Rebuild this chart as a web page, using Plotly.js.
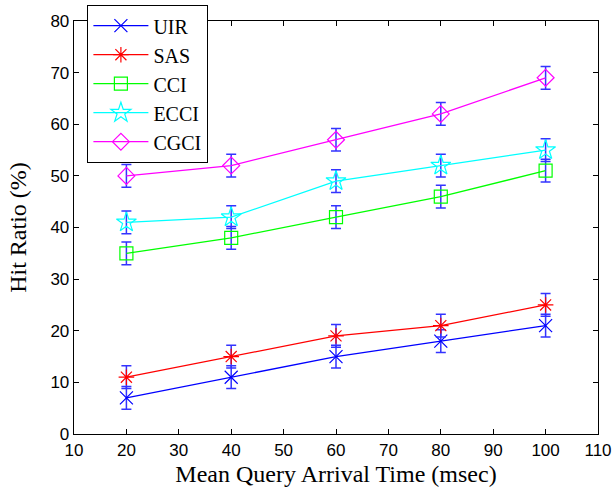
<!DOCTYPE html>
<html><head><meta charset="utf-8">
<script src="https://cdn.plot.ly/plotly-3.0.1.min.js"></script>
<style>body{margin:0;background:#fff}#chart{width:616px;height:496px}</style>
</head><body><div id="chart"></div>
<script>
var xVals = [20, 40, 60, 80, 100];
var uir  = [7, 11, 15, 18, 21];
var sas  = [11, 15, 19, 21, 25];
var cci  = [35, 38, 42, 46, 51];
var ecci = [41, 42, 49, 52, 55];
var cgci = [50, 52, 57, 62, 69];
var errUir  = [2.2, 2.2, 2.2, 2.2, 2.2];
var errSas  = [2.2, 2.2, 2.2, 2.2, 2.2];
var errCci  = [2.2, 2.2, 2.2, 2.2, 2.2];
var errEcci = [2.2, 2.2, 2.2, 2.2, 2.2];
var errCgci = [2.2, 2.2, 2.2, 2.2, 2.2];

function tr(name, y, err, color, sym, size) {
  return {
    x: xVals, y: y, name: name, type: 'scatter', mode: 'lines+markers',
    line: {color: color, width: 1.3},
    marker: {symbol: sym, size: size, color: color, line: {color: color, width: 1.2}},
    error_y: {type: 'data', array: err, visible: true, color: '#3333ff', thickness: 1.5, width: 5}
  };
}
var data = [
  tr('UIR', uir, errUir, '#0000ff', 'x-thin-open', 13),
  tr('SAS', sas, errSas, '#ff0000', 'asterisk-open', 13),
  tr('CCI', cci, errCci, '#00ff00', 'square-open', 13),
  tr('ECCI', ecci, errEcci, '#00ffff', 'star-open', 15),
  tr('CGCI', cgci, errCgci, '#ff00ff', 'diamond-open', 13)
];
var axisCommon = {
  showgrid: false, zeroline: false, showline: true, linecolor: '#000', linewidth: 1.3,
  mirror: 'ticks', ticks: 'inside', ticklen: 5, tickcolor: '#000', tickwidth: 1,
  tickfont: {family: 'Liberation Sans, Arial, sans-serif', size: 17, color: '#000'}
};
var layout = {
  width: 616, height: 496,
  margin: {l: 74, r: 18, t: 21, b: 62, autoexpand: false},
  paper_bgcolor: '#fff', plot_bgcolor: '#fff',
  showlegend: true,
  xaxis: Object.assign({}, axisCommon, {
    range: [10, 110], dtick: 10, tick0: 10,
    title: {text: 'Mean Query Arrival Time (msec)', standoff: 6,
      font: {family: 'Liberation Serif, Times New Roman, serif', size: 24, color: '#000'}}
  }),
  yaxis: Object.assign({}, axisCommon, {
    range: [0, 80], dtick: 10,
    title: {text: 'Hit Ratio (%)', standoff: 17,
      font: {family: 'Liberation Serif, Times New Roman, serif', size: 24, color: '#000'}}
  }),
  legend: {
    x: 0.025, y: 1.039, xanchor: 'left', yanchor: 'top',
    bgcolor: '#fff', bordercolor: '#000', borderwidth: 1.3,
    font: {family: 'Liberation Serif, Times New Roman, serif', size: 20, color: '#000'},
    tracegroupgap: 0, itemwidth: 55
  }
};
Plotly.newPlot('chart', data, layout, {displayModeBar: false, staticPlot: true});
</script>
</body></html>
